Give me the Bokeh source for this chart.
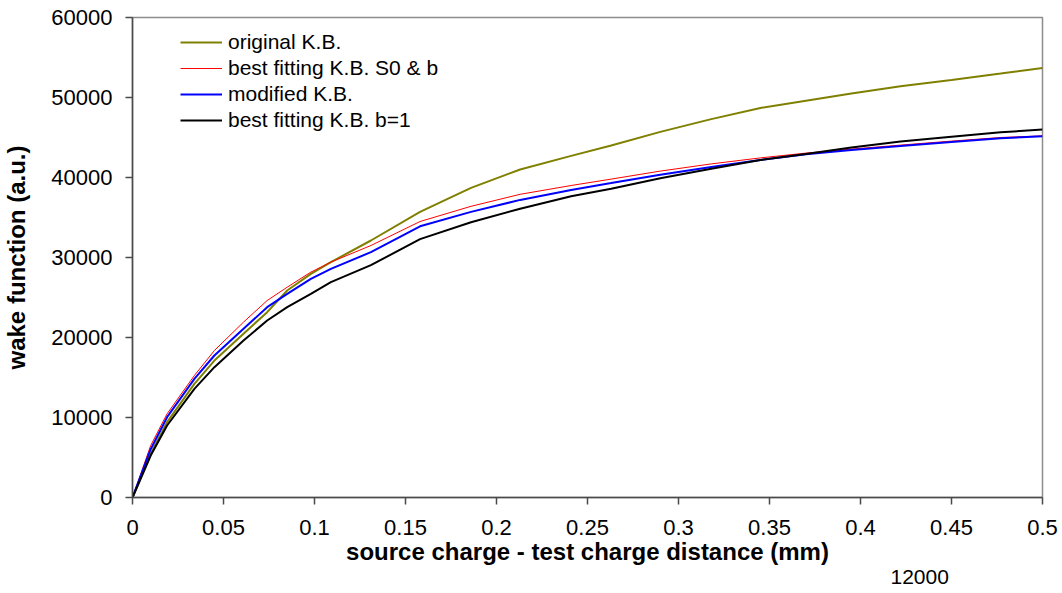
from bokeh.plotting import figure
from bokeh.models import FixedTicker, Legend, LegendItem, Title
from bokeh.embed import file_html
from bokeh.resources import INLINE

# ---- data ----
x_mm = [0, 0.010, 0.019, 0.034, 0.045, 0.061, 0.074, 0.085, 0.098, 0.109,
        0.131, 0.158, 0.186, 0.213, 0.241, 0.263, 0.290, 0.318, 0.345,
        0.370, 0.395, 0.422, 0.450, 0.477, 0.500]

original_kb = [0, 5460, 9420, 14210, 17120, 20460, 23170, 25875, 27960, 29420,
               32125, 35700, 38700, 41000, 42700, 44000, 45700, 47300, 48700,
               49600, 50500, 51400, 52200, 53000, 53700]

best_fit_s0_b = [0, 6500, 10460, 15250, 18375, 21920, 24625, 26290, 28170, 29420,
                 31500, 34500, 36400, 37900, 39000, 39800, 40800, 41700, 42450,
                 43050, 43550, 44050, 44550, 45000, 45200]

modified_kb = [0, 6040, 10040, 14830, 17750, 21080, 23790, 25460, 27330, 28580,
               30670, 33900, 35700, 37200, 38450, 39300, 40350, 41300, 42200,
               42900, 43450, 43950, 44450, 44900, 45150]

best_fit_b1 = [0, 5250, 9000, 13580, 16290, 19620, 22120, 23790, 25460, 26920,
               29040, 32300, 34400, 36100, 37650, 38600, 39900, 41100, 42200,
               42950, 43750, 44500, 45100, 45650, 46000]

series_names = ["original K.B.", "best fitting K.B. S0 & b",
                "modified K.B.", "best fitting K.B. b=1"]

x_ticks = [0, 0.05, 0.1, 0.15, 0.2, 0.25, 0.3, 0.35, 0.4, 0.45, 0.5]
x_tick_labels = ["0", "0.05", "0.1", "0.15", "0.2", "0.25", "0.3",
                 "0.35", "0.4", "0.45", "0.5"]
y_ticks = [0, 10000, 20000, 30000, 40000, 50000, 60000]
y_tick_labels = ["0", "10000", "20000", "30000", "40000", "50000", "60000"]

x_title = "source charge - test charge distance (mm)"
y_title = "wake function (a.u.)"
stray_text = "12000"

FONT = "Liberation Sans"

p = figure(width=1060, height=592, output_backend="svg", toolbar_location=None,
           x_range=(0, 0.5), y_range=(0, 60000),
           min_border_left=132, min_border_right=18,
           min_border_top=17, min_border_bottom=95)
p.grid.visible = False
p.background_fill_color = "white"
p.border_fill_color = "white"
p.outline_line_color = "#8c8c8c"
p.outline_line_width = 1.5

for ax in (p.xaxis[0], p.yaxis[0]):
    ax.axis_line_color = "#4a4a4a"
    ax.axis_line_width = 1.5
    ax.major_tick_line_color = "#4a4a4a"
    ax.major_tick_line_width = 1.5
    ax.major_tick_out = 7
    ax.major_tick_in = 0
    ax.minor_tick_line_color = None
    ax.major_label_text_font = FONT
    ax.major_label_text_font_size = "22px"
    ax.major_label_text_color = "black"
    ax.axis_label_text_font = FONT
    ax.axis_label_text_font_size = "24px"
    ax.axis_label_text_font_style = "bold"
    ax.axis_label_text_color = "black"

p.xaxis.ticker = FixedTicker(ticks=x_ticks)
p.xaxis.major_label_overrides = dict(zip(x_ticks, x_tick_labels))
p.yaxis.ticker = FixedTicker(ticks=y_ticks)
p.yaxis.major_label_overrides = dict(zip(y_ticks, y_tick_labels))
p.xaxis.axis_label = x_title
p.yaxis.axis_label = y_title
p.xaxis.major_label_standoff = 15
p.yaxis.major_label_standoff = 13
p.xaxis.axis_label_standoff = 0
p.yaxis.axis_label_standoff = 18

r_orig = p.line(x_mm, original_kb, line_color="#808000", line_width=2)
r_s0b = p.line(x_mm, best_fit_s0_b, line_color="#ff0000", line_width=1)
r_mod = p.line(x_mm, modified_kb, line_color="#0000ff", line_width=2)
r_b1 = p.line(x_mm, best_fit_b1, line_color="#000000", line_width=2)

legend = Legend(items=[LegendItem(label=series_names[0], renderers=[r_orig]),
                       LegendItem(label=series_names[1], renderers=[r_s0b]),
                       LegendItem(label=series_names[2], renderers=[r_mod]),
                       LegendItem(label=series_names[3], renderers=[r_b1])],
                location=(48, 365), orientation="vertical")
legend.border_line_color = None
legend.background_fill_alpha = 0
legend.padding = 0
legend.margin = 0
legend.spacing = 2
legend.glyph_height = 24
legend.label_height = 24
legend.glyph_width = 42
legend.label_standoff = 6
legend.label_text_font = FONT
legend.label_text_font_size = "21px"
legend.label_text_color = "black"
p.add_layout(legend, "center")

stray = Title(text=stray_text, align="left", offset=758, standoff=0,
              text_font=FONT, text_font_size="21px", text_font_style="normal",
              text_color="black")
p.add_layout(stray, "below")

open("out.html", "w").write(file_html(p, INLINE))
